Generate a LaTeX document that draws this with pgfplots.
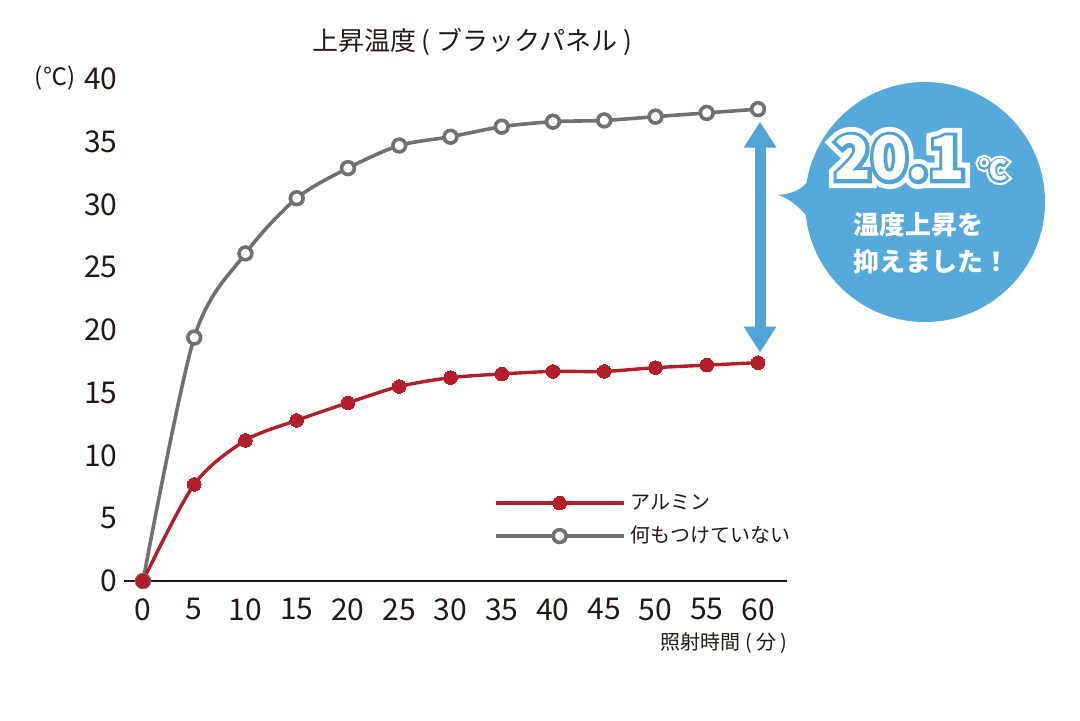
\documentclass[border=0pt]{standalone}
\usepackage{fontspec}
\setmainfont{Noto Sans CJK JP}
\usepackage{pgfplots}
\pgfplotsset{compat=1.18}
\usetikzlibrary{arrows.meta}
\definecolor{ink}{HTML}{231815}
\definecolor{alred}{HTML}{B21F2B}
\definecolor{bare}{HTML}{707070}
\definecolor{sky}{HTML}{56AADB}
\definecolor{arrowblue}{HTML}{4FA3D7}

% white glyphs with a blue line and a white rim round them
\newcommand{\outlined}[3]{% position, size, text
  \node[text=white, inner sep=0pt,
    font=\bfseries\fontsize{#2}{#2}\selectfont\addfontfeatures{FakeBold=28}] at #1 {#3};
  \node[text=arrowblue, inner sep=0pt,
    font=\bfseries\fontsize{#2}{#2}\selectfont\addfontfeatures{FakeBold=12}] at #1 {#3};
  \node[text=white, inner sep=0pt,
    font=\bfseries\fontsize{#2}{#2}\selectfont] at #1 {#3};
}

\begin{document}
\begin{tikzpicture}
\useasboundingbox (0,0) rectangle (540pt,360pt);

\begin{axis}[
  at={(62pt,69.5pt)}, anchor=south west,
  scale only axis, width=331.5pt, height=251pt,
  xmin=-1.85, xmax=62.83, ymin=0, ymax=40,
  clip=false,
  axis x line=bottom, axis y line=left,
  x axis line style={-, line width=1.4pt, draw=ink},
  y axis line style={draw=none, -},
  xtick={0,5,...,60}, ytick={0,5,...,40},
  major tick length=0pt,
  tick style={draw=none},
  /pgf/number format/assume math mode=true,
  ticklabel style={font=\fontsize{15}{15}\selectfont, text=ink},
  xticklabel style={inner sep=0pt, yshift=-8.5pt, anchor=north},
  yticklabel style={inner sep=0pt, xshift=-3pt, anchor=east},
  reverse legend,
  legend cell align=left,
  legend style={draw=none, fill=none, at={(0.558,0.186)}, anchor=north west,
    font=\fontsize{10}{10}\selectfont, text=ink, row sep=1pt,
    inner sep=0pt, nodes={inner sep=3pt}},
  legend image code/.code={%
    \draw[mark repeat=2, mark phase=2, #1] plot coordinates {(0pt,0pt) (31.75pt,0pt) (63.5pt,0pt)};},
]
\addplot[bare, line width=1.8pt, smooth, tension=0.5, mark=*, mark size=3.2pt,
  mark options={fill=white, draw=bare, line width=1.8pt}]
  coordinates {(0,0)(5,19.4)(10,26.1)(15,30.5)(20,32.9)(25,34.7)(30,35.4)(35,36.2)(40,36.6)(45,36.7)(50,37.0)(55,37.3)(60,37.6)};
\addlegendentry{何もつけていない}
\addplot[alred, line width=1.7pt, smooth, tension=0.5, mark=*, mark size=3.4pt,
  mark options={fill=alred, draw=alred, line width=0pt}]
  coordinates {(0,0)(5,7.7)(10,11.2)(15,12.8)(20,14.2)(25,15.5)(30,16.2)(35,16.5)(40,16.7)(45,16.7)(50,17.0)(55,17.2)(60,17.4)};
\addlegendentry{アルミン}

\draw[arrowblue, line width=5.5pt,
  {Triangle[width=15.5pt,length=13pt]}-{Triangle[width=15.5pt,length=13pt]}]
  (axis cs:60.2,36.6) -- (axis cs:60.2,18.2);
\end{axis}

% speech bubble
\fill[sky] (462.5pt,259pt) circle (60pt);
\fill[sky] (389pt,262.5pt) .. controls (397pt,263pt) and (402pt,266pt) .. (405pt,271pt)
  -- (415pt,262pt) -- (403pt,252.5pt) .. controls (399pt,257pt) and (394pt,261pt) .. cycle;
\outlined{(450pt,281pt)}{30}{20.1}
\outlined{(496.5pt,275pt)}{14}{℃}
\node[text=white, font=\bfseries\fontsize{13}{13}\selectfont, anchor=west, inner sep=0pt]
  at (426.5pt,247.5pt) {温度上昇を};
\node[text=white, font=\bfseries\fontsize{13}{13}\selectfont, anchor=west, inner sep=0pt]
  at (426.5pt,229pt) {抑えました！};

% titles
\node[text=ink, font=\fontsize{13}{13}\selectfont] at (236pt,339pt) {上昇温度 ( ブラックパネル )};
\node[text=ink, font=\fontsize{12}{12}\selectfont] at (27.5pt,321pt) {(℃)};
\node[text=ink, font=\fontsize{10}{10}\selectfont, anchor=east, inner sep=0pt] at (394pt,38.5pt) {照射時間 ( 分 )};
\end{tikzpicture}
\end{document}
